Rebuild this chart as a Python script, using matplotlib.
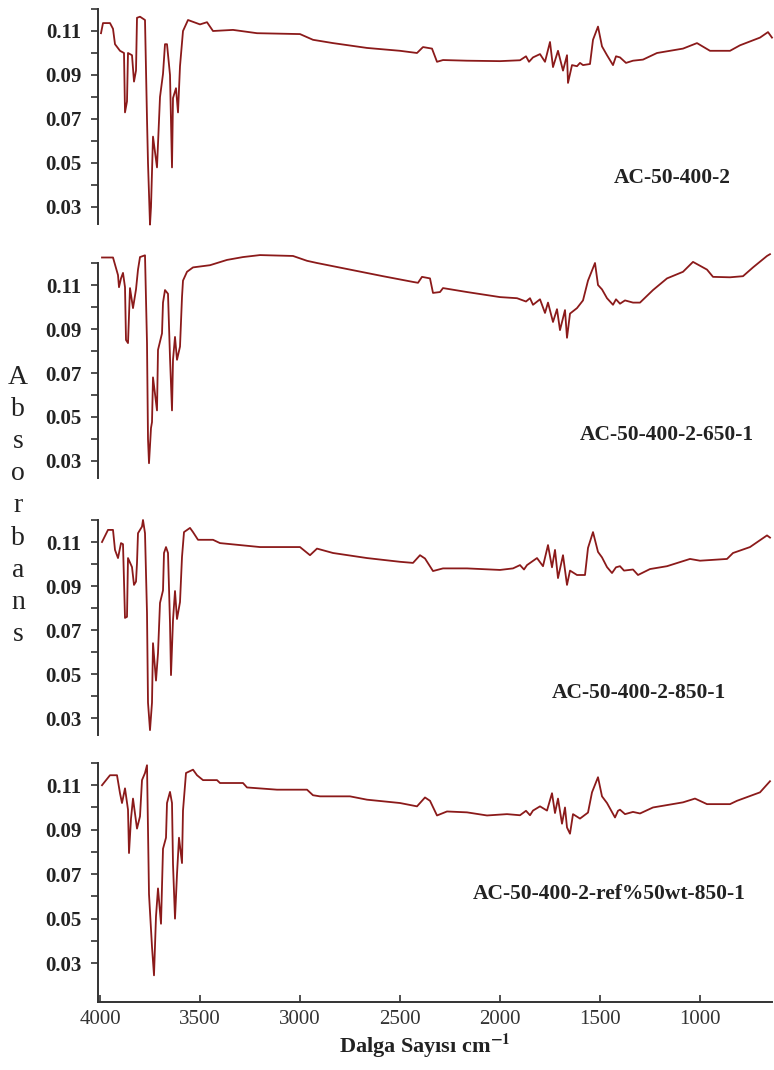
import numpy as np
import matplotlib
matplotlib.use('Agg')
import matplotlib.pyplot as plt

plt.rcParams['font.family'] = 'Liberation Serif'
plt.rcParams['mathtext.fontset'] = 'stix'

# wavenumber (cm-1) / absorbance
wn1 = [3995, 3985, 3950, 3935, 3925, 3900, 3880, 3875, 3865, 3860, 3840, 3830, 3820, 3815,
       3800, 3775, 3765, 3760, 3750, 3745, 3735, 3725, 3715, 3700, 3685, 3675, 3665, 3650,
       3640, 3635, 3620, 3610, 3600, 3585, 3560, 3500, 3465, 3435, 3335, 3215, 3000, 2935,
       2835, 2665, 2500, 2415, 2385, 2340, 2315, 2285, 2165, 2000, 1900, 1870, 1855, 1835,
       1800, 1775, 1750, 1735, 1710, 1685, 1665, 1660, 1640, 1615, 1600, 1585, 1550, 1535,
       1510, 1490, 1465, 1435, 1420, 1400, 1370, 1335, 1285, 1215, 1085, 1015, 950, 850,
       800, 700, 660, 640]
ab1 = [0.109, 0.1136, 0.1136, 0.111, 0.104, 0.101, 0.100, 0.073, 0.078, 0.100, 0.099, 0.087,
       0.092, 0.116, 0.1165, 0.115, 0.070, 0.050, 0.022, 0.030, 0.062, 0.055, 0.048, 0.080,
       0.0905, 0.104, 0.104, 0.090, 0.048, 0.0795, 0.084, 0.073, 0.094, 0.110, 0.115, 0.113,
       0.114, 0.110, 0.1105, 0.109, 0.1086, 0.106, 0.1045, 0.1023, 0.101, 0.100, 0.1027,
       0.102, 0.096, 0.0968, 0.0965, 0.0963, 0.0967, 0.0985, 0.096, 0.098, 0.0995, 0.096,
       0.105, 0.0936, 0.101, 0.092, 0.099, 0.0864, 0.0945, 0.094, 0.0955, 0.0945, 0.095,
       0.106, 0.112, 0.103, 0.099, 0.0945, 0.0985, 0.098, 0.0955, 0.0965, 0.097, 0.100,
       0.102, 0.1045, 0.101, 0.101, 0.1035, 0.107, 0.1095, 0.107]

wn2 = [3990, 3935, 3910, 3905, 3895, 3885, 3875, 3870, 3860, 3850, 3835, 3820, 3810, 3800,
       3775, 3765, 3760, 3755, 3745, 3740, 3735, 3715, 3710, 3690, 3685, 3675, 3660, 3650,
       3640, 3635, 3625, 3615, 3600, 3590, 3585, 3565, 3535, 3450, 3365, 3285, 3200, 3035,
       2965, 2915, 2750, 2585, 2435, 2410, 2390, 2350, 2335, 2300, 2285, 2165, 2000, 1915,
       1870, 1850, 1835, 1800, 1775, 1760, 1735, 1715, 1700, 1675, 1665, 1650, 1615, 1585,
       1560, 1525, 1510, 1490, 1465, 1435, 1420, 1400, 1375, 1335, 1300, 1235, 1165, 1085,
       1035, 965, 935, 850, 785, 735, 665, 650]
ab2 = [0.1225, 0.1225, 0.1145, 0.109, 0.113, 0.1155, 0.109, 0.085, 0.0836, 0.1086, 0.0995,
       0.108, 0.117, 0.1227, 0.1235, 0.0836, 0.040, 0.029, 0.045, 0.0477, 0.068, 0.053,
       0.0805, 0.088, 0.102, 0.1077, 0.106, 0.077, 0.053, 0.076, 0.0864, 0.076, 0.082,
       0.1045, 0.112, 0.116, 0.118, 0.119, 0.1214, 0.1227, 0.1236, 0.1232, 0.121, 0.120,
       0.117, 0.114, 0.1114, 0.111, 0.1137, 0.113, 0.1064, 0.1068, 0.1086, 0.1068, 0.1045,
       0.104, 0.1025, 0.104, 0.101, 0.1035, 0.0973, 0.102, 0.0932, 0.099, 0.0895, 0.0986,
       0.086, 0.097, 0.0995, 0.103, 0.112, 0.120, 0.110, 0.108, 0.104, 0.101, 0.1035, 0.1015,
       0.103, 0.102, 0.102, 0.1077, 0.113, 0.116, 0.1205, 0.117, 0.1137, 0.1135, 0.114,
       0.118, 0.1232, 0.124]

wn3 = [3990, 3960, 3935, 3925, 3910, 3895, 3885, 3875, 3865, 3860, 3840, 3830, 3820, 3815,
       3810, 3790, 3785, 3775, 3765, 3760, 3750, 3740, 3735, 3720, 3710, 3700, 3685, 3680,
       3670, 3660, 3650, 3645, 3635, 3625, 3615, 3600, 3590, 3580, 3550, 3535, 3510, 3435,
       3400, 3200, 3035, 3000, 2950, 2915, 2835, 2665, 2500, 2435, 2400, 2375, 2335, 2285,
       2165, 2000, 1935, 1900, 1880, 1865, 1815, 1785, 1760, 1740, 1725, 1710, 1685, 1665,
       1650, 1615, 1575, 1560, 1535, 1510, 1490, 1465, 1440, 1420, 1400, 1380, 1335, 1310,
       1250, 1165, 1050, 1000, 865, 835, 750, 665, 650]
ab3 = [0.110, 0.1155, 0.1155, 0.1064, 0.1027, 0.1095, 0.109, 0.0755, 0.076, 0.1027, 0.0986,
       0.0905, 0.092, 0.1005, 0.114, 0.117, 0.120, 0.114, 0.0777, 0.037, 0.0245, 0.037,
       0.064, 0.047, 0.0595, 0.0823, 0.088, 0.105, 0.1077, 0.105, 0.0732, 0.0495, 0.0745,
       0.0877, 0.075, 0.0827, 0.1032, 0.1145, 0.1164, 0.1145, 0.111, 0.111, 0.1095, 0.1077,
       0.1077, 0.1077, 0.104, 0.107, 0.105, 0.1027, 0.101, 0.1005, 0.104, 0.1025, 0.0968,
       0.098, 0.098, 0.0973, 0.098, 0.0995, 0.0975, 0.0995, 0.1027, 0.099, 0.1086, 0.0985,
       0.1064, 0.0936, 0.104, 0.0905, 0.097, 0.095, 0.095, 0.1073, 0.1145, 0.1055, 0.103,
       0.0986, 0.0959, 0.0985, 0.099, 0.097, 0.0975, 0.095, 0.0977, 0.099, 0.1023, 0.1015,
       0.1023, 0.105, 0.1077, 0.113, 0.112]

wn4 = [3990, 3950, 3915, 3900, 3890, 3875, 3860, 3855, 3845, 3835, 3815, 3800, 3790, 3775,
       3765, 3755, 3740, 3730, 3720, 3710, 3695, 3685, 3670, 3665, 3650, 3640, 3635, 3625,
       3615, 3605, 3590, 3585, 3570, 3535, 3515, 3485, 3415, 3400, 3285, 3265, 3115, 2965,
       2935, 2900, 2750, 2665, 2500, 2415, 2375, 2350, 2315, 2265, 2165, 2065, 1965, 1900,
       1870, 1850, 1835, 1800, 1765, 1740, 1725, 1710, 1690, 1675, 1665, 1650, 1635, 1600,
       1560, 1540, 1510, 1490, 1465, 1425, 1410, 1400, 1375, 1335, 1300, 1235, 1085, 1025,
       965, 850, 815, 700, 650]
ab4 = [0.110, 0.1145, 0.1145, 0.1064, 0.102, 0.1086, 0.099, 0.0795, 0.095, 0.104, 0.0905,
       0.096, 0.1123, 0.1155, 0.119, 0.061, 0.0373, 0.0245, 0.051, 0.0636, 0.0477, 0.0814,
       0.0864, 0.102, 0.107, 0.102, 0.0745, 0.050, 0.070, 0.0864, 0.075, 0.0986, 0.1155,
       0.117, 0.1145, 0.1123, 0.1123, 0.111, 0.111, 0.109, 0.108, 0.108, 0.1055, 0.105,
       0.105, 0.1035, 0.102, 0.1005, 0.1045, 0.103, 0.0964, 0.0982, 0.0978, 0.0964, 0.097,
       0.0965, 0.0985, 0.0965, 0.0986, 0.1005, 0.0986, 0.1064, 0.0975, 0.104, 0.0927, 0.100,
       0.091, 0.0882, 0.097, 0.095, 0.0977, 0.1068, 0.1136, 0.105, 0.102, 0.0955, 0.0985,
       0.099, 0.097, 0.098, 0.0973, 0.100, 0.1023, 0.104, 0.1015, 0.1015, 0.103, 0.1068,
       0.1118]

labels = ['AC-50-400-2', 'AC-50-400-2-650-1', 'AC-50-400-2-850-1',
          'AC-50-400-2-ref%50wt-850-1']
label_pos = [(1140, 0.0432), (1165, 0.0418), (1305, 0.0414), (1455, 0.0609)]
yticks = [0.03, 0.05, 0.07, 0.09, 0.11]
yminor = [0.04, 0.06, 0.08, 0.10, 0.12]
xticks = [4000, 3500, 3000, 2500, 2000, 1500, 1000]

W, H = 774, 1070
fig = plt.figure(figsize=(W / 100, H / 100), dpi=100)

# panel top / bottom in pixels and y limits
tops = [9, 263, 520, 763]
bots = [223.5, 477.5, 734.5, 1002]
ybot = [0.0225, 0.0225, 0.0225, 0.0125]
data = [(wn1, ab1), (wn2, ab2), (wn3, ab3), (wn4, ab4)]
col = '#8b1a1a'

for i in range(4):
    ax = fig.add_axes([98 / W, 1 - bots[i] / H, 674 / W, (bots[i] - tops[i]) / H])
    x, y = data[i]
    ax.plot(x, y, color=col, lw=1.3, clip_on=False)
    ax.set_xlim(4010, 640)
    ax.set_ylim(ybot[i], 0.12)
    for s in ['top', 'right']:
        ax.spines[s].set_visible(False)
    ax.spines['left'].set_color('#333333')
    ax.spines['left'].set_linewidth(1.4)
    ax.set_yticks(yticks)
    ax.set_yticks(yminor, minor=True)
    ax.set_yticklabels(['%.2f' % v for v in yticks], fontsize=15, fontweight='bold',
                       color='#222222')
    ax.tick_params(axis='y', which='both', direction='out', length=5, width=1.2,
                   color='#333333', pad=7)
    lx, ly = label_pos[i]
    ax.text(lx, ly, labels[i], ha='center', va='center', fontsize=15.5,
            fontweight='bold', color='#222222')
    if i < 3:
        ax.spines['bottom'].set_visible(False)
        ax.set_xticks([])
    else:
        ax.spines['bottom'].set_color('#333333')
        ax.spines['bottom'].set_linewidth(1.4)
        ax.set_xticks(xticks)
        ax.set_xticklabels([str(v) for v in xticks], fontsize=15, color='#333333')
        ax.tick_params(axis='x', direction='in', length=5, width=1.2,
                       color='#333333', pad=6)

fig.text(18 / W, 1 - 506 / H, '\n'.join('Absorbans'), ha='center', va='center',
         fontsize=20, linespacing=1.37, color='#222222')
fig.text(425 / W, 1 - 1046 / H, r'Dalga Sayısı cm$^{\mathbf{-1}}$', ha='center',
         va='center', fontsize=16, fontweight='bold', color='#222222')

fig.savefig('out.png', dpi=100)
